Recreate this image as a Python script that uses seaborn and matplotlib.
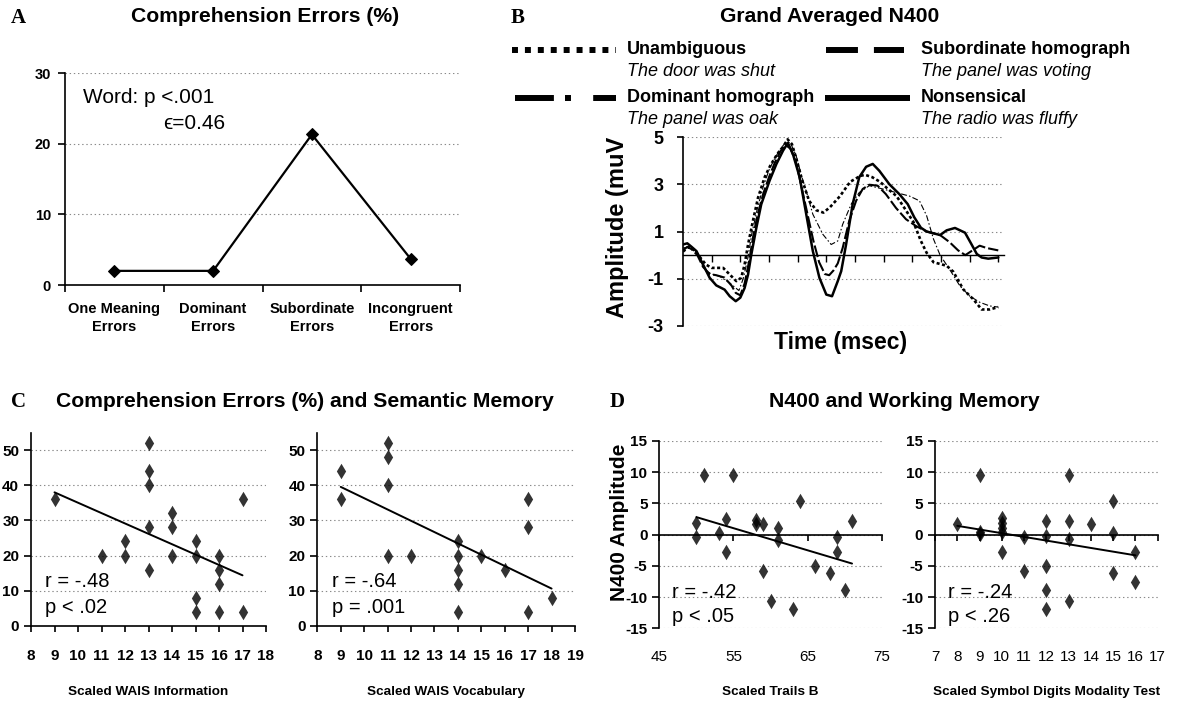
import numpy as np
import pandas as pd
import matplotlib
matplotlib.use("Agg")
import matplotlib.pyplot as plt
import seaborn as sns
from matplotlib import font_manager as fm
from matplotlib.lines import Line2D

# ---------------- data ----------------
a_categories = ["One Meaning\nErrors", "Dominant\nErrors", "Subordinate\nErrors", "Incongruent\nErrors"]
a_errors = [2.0, 2.0, 21.3, 3.7]

# Grand averaged N400 waveforms (time in ms, amplitude in muV)
unamb_t = [0, 20, 40, 60, 80, 100, 140, 163, 186, 203, 215, 227, 244, 262, 285, 305, 330, 350, 365, 380,
           395, 415, 440, 465, 490, 513, 548, 583, 618, 635, 660, 688, 715, 745, 775, 804, 830, 850, 874, 920,
           943, 978, 1013, 1042, 1070, 1100]
unamb_v = [0.15, 0.35, 0.2, -0.1, -0.4, -0.54, -0.54, -0.82, -1.1, -0.96, -0.4, 0.45, 1.45, 2.44, 3.3, 3.8, 4.3, 4.6, 4.9, 4.7,
           4.1, 3.2, 2.3, 1.9, 1.8, 2.03, 2.5, 3.1, 3.35, 3.4, 3.3, 3.1, 2.8, 2.5, 1.95, 1.4, 0.6, 0.1, -0.3, -0.45,
           -0.7, -1.45, -1.87, -2.3, -2.3, -2.2]

sub_t = [0, 15, 30, 50, 70, 93, 116, 145, 170, 184, 200, 215, 230, 245, 260, 280, 300, 320, 340, 360,
         375, 395, 415, 435, 455, 475, 495, 510, 525, 540, 557, 580, 604, 627, 650, 679, 708, 743, 778, 813,
         850, 897, 930, 960, 985, 1010, 1035, 1060, 1100]
sub_v = [0.2, 0.35, 0.25, 0.0, -0.5, -0.8, -0.85, -0.95, -1.3, -1.6, -1.7, -1.2, -0.3, 0.8, 1.7, 2.6, 3.3, 3.9, 4.4, 4.65,
         4.5, 3.9, 2.8, 1.7, 0.6, -0.3, -0.8, -0.85, -0.65, -0.35, 0.3, 1.45, 2.3, 2.8, 2.98, 2.94, 2.58, 2.0, 1.52, 1.23,
         1.0, 0.85, 0.55, 0.2, 0.0, 0.2, 0.4, 0.3, 0.2]

dom_t = [0, 20, 40, 60, 81, 100, 128, 163, 195, 210, 225, 240, 260, 280, 300, 320, 340, 360, 375, 395,
         415, 435, 453, 488, 517, 540, 557, 587, 615, 650, 697, 743, 790, 825, 850, 874, 897, 930, 966, 1000,
         1036, 1070, 1100]
dom_v = [0.3, 0.35, 0.25, -0.2, -0.68, -0.8, -0.9, -1.18, -1.5, -1.0, -0.2, 0.9, 2.0, 2.9, 3.6, 4.1, 4.5, 4.8, 4.75, 4.2,
         3.3, 2.5, 1.73, 0.88, 0.45, 0.6, 1.3, 2.16, 2.65, 2.94, 2.8, 2.65, 2.5, 2.3, 1.67, 0.68, 0.0, -0.6, -1.3, -1.73,
         -2.0, -2.15, -2.2]

nons_t = [0, 15, 30, 47, 70, 93, 116, 145, 163, 184, 200, 215, 227, 238, 256, 273, 302, 326, 349, 366,
          383, 407, 430, 453, 476, 500, 520, 540, 552, 569, 592, 615, 639, 662, 685, 720, 755, 784, 807, 830,
          850, 897, 920, 949, 984, 1007, 1025, 1042, 1065, 1100]
nons_v = [0.45, 0.5, 0.35, 0.17, -0.4, -0.96, -1.28, -1.46, -1.74, -1.95, -1.8, -1.39, -0.82, 0.0, 1.16, 2.15, 3.15, 3.86, 4.42, 4.75,
          4.3, 3.3, 1.73, 0.17, -0.96, -1.67, -1.74, -1.1, -0.68, 0.45, 2.16, 3.3, 3.74, 3.86, 3.57, 3.0, 2.58, 2.16, 1.6, 1.16,
          1.0, 0.85, 1.05, 1.15, 0.95, 0.45, 0.05, -0.1, -0.15, -0.1]

legend_names = ["Unambiguous", "Subordinate homograph", "Dominant homograph", "Nonsensical"]
legend_examples = ["The door was shut", "The panel was voting", "The panel was oak", "The radio was fluffy"]

# Panel C: comprehension errors (%) vs semantic memory
c1_x = [9, 11, 12, 12, 13, 13, 13, 13, 13, 14, 14, 14, 15, 15, 15, 15, 16, 16, 16, 16, 17, 17]
c1_y = [36, 20, 24, 20, 52, 44, 40, 28, 16, 32, 28, 20, 24, 20, 8, 4, 20, 16, 12, 4, 36, 4]
c2_x = [9, 9, 11, 11, 11, 11, 12, 14, 14, 14, 14, 14, 15, 16, 17, 17, 17, 18]
c2_y = [44, 36, 52, 48, 40, 20, 20, 24, 20, 16, 12, 4, 20, 16, 36, 28, 4, 8]

# Panel D: N400 amplitude vs working memory
d1_x = [50, 50, 51, 53, 54, 54, 55, 58, 58, 59, 59, 60, 61, 61, 63, 64, 66, 68, 69, 69, 70, 71]
d1_y = [1.8, -0.4, 9.6, 0.3, 2.5, -2.7, 9.6, 2.3, 1.7, 1.7, -5.8, -10.7, 1.0, -0.8, -11.9, 5.4, -5.0, -6.1, -0.3, -2.7, -8.9, 2.2]
d2_x = [8, 9, 9, 9, 10, 10, 10, 10, 10, 11, 11, 12, 12, 12, 12, 12, 13, 13, 13, 13, 14, 15, 15, 15, 16, 16]
d2_y = [1.7, 9.6, 0.5, 0.1, 2.6, 1.8, 1.0, 0.4, -2.7, -0.3, -5.8, 2.2, -0.2, -5.0, -8.9, -11.9, 9.6, 2.2, -0.7, -10.7,
        1.7, 5.4, 0.3, -6.1, -2.7, -7.6]

# ---------------- style ----------------
sns.set_theme(style="white")
avail = {f.name for f in fm.fontManager.ttflist}


def pick(*names):
    for n in names:
        if n in avail:
            return n
    return None


SANS = pick("Liberation Sans", "Arial") or "DejaVu Sans"
NARROW = pick("Liberation Sans Narrow", "Arial Narrow", "DejaVu Sans Condensed")
HAS_NARROW = NARROW is not None
if not HAS_NARROW:
    NARROW = SANS
SERIF = pick("Liberation Serif", "Times New Roman") or "DejaVu Serif"
plt.rcParams.update({
    "font.family": [SANS, "DejaVu Sans"],
    "text.color": "black", "axes.labelcolor": "black",
    "xtick.color": "black", "ytick.color": "black",
    "axes.edgecolor": "black", "axes.linewidth": 1.2,
    "lines.scale_dashes": False,
})
NAR = [NARROW, "DejaVu Sans"]
TICK_FS = 12.0 if HAS_NARROW else 11.0
XLAB_FS = 11.5 if HAS_NARROW else 9.7

W, H = 1178, 706
fig = plt.figure(figsize=(W / 100, H / 100), dpi=100)
fig.patch.set_facecolor("white")


def frect(x0, y0, x1, y1):
    return [x0 / W, 1 - y1 / H, (x1 - x0) / W, (y1 - y0) / H]


def fx(x):
    return x / W


def fy(y):
    return 1 - y / H


GRID = dict(color="#8a8a8a", linestyle=(0, (1, 2)), linewidth=0.8)


def base_axes(ax):
    ax.set_facecolor("white")
    for s in ["top", "right"]:
        ax.spines[s].set_visible(False)
    for s in ["left", "bottom"]:
        ax.spines[s].set_color("black")
        ax.spines[s].set_linewidth(1.2)
    ax.set_axisbelow(True)


# ---------------- Panel A ----------------
axA = fig.add_axes(frect(65, 73, 460, 285))
base_axes(axA)
sns.lineplot(x=np.arange(len(a_errors)), y=a_errors, ax=axA, color="black", linewidth=1.6,
             marker="D", markersize=6.5, markeredgecolor="black", markerfacecolor="black", errorbar=None)
axA.set_xlim(-0.5, len(a_errors) - 0.5)
axA.set_ylim(0, 30)
axA.set_yticks([0, 10, 20, 30], labels=["0", "10", "20", "30"], fontweight="bold", fontsize=10.5)
axA.yaxis.grid(True, **GRID)
axA.xaxis.grid(False)
axA.set_xticks(np.arange(-0.5, len(a_errors), 1.0), labels=[""] * (len(a_errors) + 1))
axA.set_xticks(np.arange(len(a_errors)), labels=a_categories, minor=True,
               fontweight="bold", fontsize=10.5, linespacing=1.4)
axA.tick_params(axis="x", which="major", bottom=True, direction="out", length=5, width=1.2)
axA.tick_params(axis="x", which="minor", bottom=True, length=0, pad=12)
axA.tick_params(axis="y", left=True, direction="out", length=5, width=1.2, pad=5)
axA.set_xlabel("")
axA.set_ylabel("")
axA.text(-0.32, 26.5, "Word: p <.001", fontsize=15, va="center", ha="left")
axA.text(0.49, 22.9, "\u03f5=0.46", fontsize=15, va="center", ha="left")

fig.text(fx(18), fy(18), "A", fontfamily=SERIF, fontweight="bold", fontsize=15, ha="center", va="center")
fig.text(fx(265), fy(16), "Comprehension Errors (%)", fontweight="bold", fontsize=15.2, ha="center", va="center")

# ---------------- Panel B ----------------
axB = fig.add_axes(frect(683, 137, 1004, 326))
base_axes(axB)
wave_series = [
    (unamb_t, unamb_v, 1.9, (0, (2.2, 1.8))),
    (dom_t, dom_v, 0.8, (0, (4.3, 1.6, 1.1, 1.6))),
    (sub_t, sub_v, 1.5, (0, (8.6, 2.2))),
    (nons_t, nons_v, 1.8, "-"),
]
for t, v, lw, ls in wave_series:
    sns.lineplot(x=t, y=v, ax=axB, color="black", linewidth=lw, linestyle=ls, errorbar=None, sort=False)
axB.set_xlim(0, 1120)
axB.set_ylim(-3, 5)
axB.set_yticks([5, 3, 1, -1, -3], labels=["5", "3", "1", "-1", "-3"], fontweight="bold", fontsize=13)
axB.yaxis.grid(True, **GRID)
axB.xaxis.grid(False)
axB.spines["bottom"].set_position(("data", 0))
axB.spines["bottom"].set_linewidth(1.0)
axB.set_xticks(np.arange(100, 1101, 100), labels=[""] * 11)
axB.tick_params(axis="x", bottom=True, direction="out", length=5, width=1.0)
axB.tick_params(axis="y", left=True, direction="out", length=4, width=1.2, pad=10)
axB.set_ylabel("Amplitude (muV", fontsize=17, fontweight="bold", va="center")
axB.yaxis.set_label_coords(-0.2025, 0.521)
axB.set_xlabel("Time (msec)", fontsize=16.5, fontweight="bold", va="center")
axB.xaxis.set_label_coords(0.49, -0.085)

fig.text(fx(518), fy(18), "B", fontfamily=SERIF, fontweight="bold", fontsize=15, ha="center", va="center")
fig.text(fx(830), fy(16), "Grand Averaged N400", fontweight="bold", fontsize=15.2, ha="center", va="center")


def leg_line(x0, x1, y, lw, ls):
    fig.add_artist(Line2D([fx(x0), fx(x1)], [fy(y), fy(y)], transform=fig.transFigure,
                          color="black", linewidth=lw, linestyle=ls, solid_capstyle="butt", dash_capstyle="butt"))


leg_line(512, 616, 50, 4.3, (0, (4.3, 5.0)))
leg_line(826, 904, 50, 4.3, (0, (23, 11.5)))
leg_line(515, 616, 98, 4.3, (0, (28, 8, 4.3, 16)))
leg_line(825, 910, 98, 4.3, "-")
leg_pos = [(627, 49), (921, 49), (627, 97), (921, 97)]
for (lx, ly), name, ex in zip(leg_pos, legend_names, legend_examples):
    fig.text(fx(lx), fy(ly), name, fontweight="bold", fontsize=13, ha="left", va="center")
    fig.text(fx(lx), fy(ly + 23), ex, fontstyle="italic", fontsize=13, ha="left", va="center")


# ---------------- Panels C and D ----------------
def scatter_panel(box, x, y, xlim, xticks, ylim, yticks, xlabel, r_txt, p_txt, txt_pos, zero_axis=False,
                  xlab_y=-0.344, xpad=14):
    ax = fig.add_axes(frect(*box))
    base_axes(ax)
    sns.regplot(x=x, y=y, ax=ax, ci=None, truncate=True, marker="d", color="black",
                scatter_kws=dict(s=62, linewidths=0, zorder=3),
                line_kws=dict(linewidth=1.4, zorder=2))
    ax.set_xlim(*xlim)
    ax.set_ylim(*ylim)
    ax.set_xticks(xticks, labels=[str(v) for v in xticks], fontfamily=NAR, fontweight="bold", fontsize=TICK_FS)
    ax.set_yticks(yticks, labels=[str(v) for v in yticks], fontfamily=NAR, fontweight="bold", fontsize=TICK_FS)
    ax.yaxis.grid(True, **GRID)
    ax.xaxis.grid(False)
    if zero_axis:
        ax.spines["bottom"].set_position(("data", 0))
        ax.spines["bottom"].set_linewidth(1.2)
    ax.tick_params(axis="x", bottom=True, direction="out", length=4, width=1.2, pad=xpad)
    ax.tick_params(axis="y", left=True, direction="out", length=5, width=1.2, pad=3.5)
    ax.set_xlabel(xlabel, fontfamily=NAR, fontweight="bold", fontsize=XLAB_FS, va="center")
    ax.xaxis.set_label_coords(0.5, xlab_y)
    ax.set_ylabel("")
    tx, ty1, ty2 = txt_pos
    ax.text(tx, ty1, r_txt, fontsize=14.5, ha="left", va="center")
    ax.text(tx, ty2, p_txt, fontsize=14.5, ha="left", va="center")
    return ax


scatter_panel((31, 432.7, 266, 625.7), c1_x, c1_y, (8, 18), list(range(8, 19)), (0, 55), [0, 10, 20, 30, 40, 50],
              "Scaled WAIS Information", "r = -.48", "p < .02", (8.6, 12.5, 5.3), xpad=13)
scatter_panel((317.3, 432.7, 575, 625.7), c2_x, c2_y, (8, 19), list(range(8, 20)), (0, 55), [0, 10, 20, 30, 40, 50],
              "Scaled WAIS Vocabulary", "r = -.64", "p = .001", (8.63, 12.5, 5.3), xpad=13)

axD1 = scatter_panel((659.3, 441, 881.7, 628.3), d1_x, d1_y, (45, 75), [45, 55, 65, 75], (-15, 15),
                     [15, 10, 5, 0, -5, -10, -15], "Scaled Trails B", "r = -.42", "p < .05", (46.7, -9.2, -13.1),
                     zero_axis=True, xlab_y=-0.340, xpad=79)
axD1.set_ylabel("N400 Amplitude", fontsize=15, fontweight="bold", va="center")
axD1.yaxis.set_label_coords(-0.181, 0.565)
scatter_panel((935, 441, 1157.7, 628.3), d2_x, d2_y, (7, 17), list(range(7, 18)), (-15, 15),
              [15, 10, 5, 0, -5, -10, -15], "Scaled Symbol Digits Modality Test", "r = -.24", "p < .26",
              (7.58, -9.2, -13.1), zero_axis=True, xlab_y=-0.340, xpad=79)

fig.text(fx(18), fy(402), "C", fontfamily=SERIF, fontweight="bold", fontsize=15, ha="center", va="center")
fig.text(fx(305), fy(402), "Comprehension Errors (%) and Semantic Memory", fontweight="bold", fontsize=15.2,
         ha="center", va="center")
fig.text(fx(617), fy(402), "D", fontfamily=SERIF, fontweight="bold", fontsize=15, ha="center", va="center")
fig.text(fx(904), fy(402), "N400 and Working Memory", fontweight="bold", fontsize=15.2, ha="center", va="center")

fig.savefig("out.png", dpi=100, facecolor="white")
